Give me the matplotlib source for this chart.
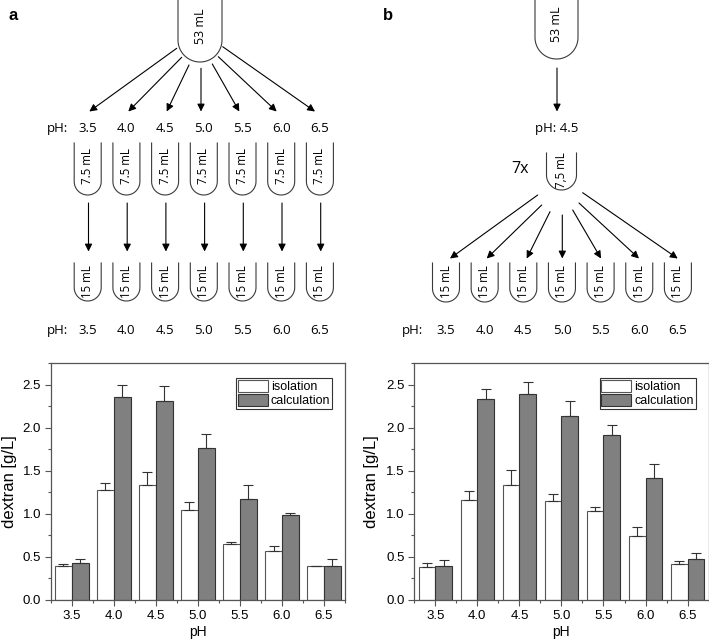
import numpy as np
import matplotlib
matplotlib.use("Agg")
from matplotlib import pyplot as plt
from matplotlib.ticker import MultipleLocator, FormatStrFormatter

# data
ph = [3.5, 4.0, 4.5, 5.0, 5.5, 6.0, 6.5]
ph_labels = ["3.5", "4.0", "4.5", "5.0", "5.5", "6.0", "6.5"]
a_iso = [0.39, 1.28, 1.33, 1.05, 0.65, 0.57, 0.39]
a_iso_err = [0.03, 0.08, 0.16, 0.09, 0.02, 0.06, 0.01]
a_calc = [0.43, 2.35, 2.31, 1.76, 1.17, 0.99, 0.40]
a_calc_err = [0.05, 0.15, 0.17, 0.17, 0.17, 0.02, 0.08]
b_iso = [0.38, 1.16, 1.34, 1.15, 1.03, 0.74, 0.42]
b_iso_err = [0.05, 0.11, 0.17, 0.08, 0.05, 0.11, 0.03]
b_calc = [0.40, 2.33, 2.39, 2.13, 1.91, 1.41, 0.48]
b_calc_err = [0.06, 0.12, 0.14, 0.18, 0.12, 0.17, 0.06]

W, H = 709, 643
DFONT = "Open Sans"
CFONT = "Liberation Sans"
LINE = "#3a3a3a"

fig = plt.figure(figsize=(W / 100, H / 100), dpi=100)

# ---- scheme drawn in pixel coordinates ----
bg = fig.add_axes([0, 0, 1, 1])
bg.set_xlim(0, W)
bg.set_ylim(H, 0)
bg.axis("off")


def tube(cx, top, bottom, width, label, ty, fs=8.3):
    r = width / 2
    t = np.linspace(0, np.pi, 50)
    xs = np.concatenate([[cx + r], cx + r * np.cos(t), [cx - r]])
    ys = np.concatenate([[top], bottom - r + r * np.sin(t), [top]])
    bg.plot(xs, ys, color=LINE, lw=0.8)
    bg.text(cx, ty, label, rotation=90, ha="center", va="center",
            fontsize=fs, family=DFONT)


def arrow(x0, y0, x1, y1):
    bg.annotate("", xy=(x1, y1), xytext=(x0, y0),
                arrowprops=dict(arrowstyle="-|>", color="black", lw=0.8,
                                mutation_scale=11, shrinkA=0, shrinkB=0))


def ph_row(xs, y, px):
    bg.text(px, y, "pH:", ha="center", va="center", fontsize=9.5, family=DFONT)
    for x, lab in zip(xs, ph_labels):
        bg.text(x, y, lab, ha="center", va="center", fontsize=9.5, family=DFONT)


xa = 87.7 + 38.7 * np.arange(7)
xb = 446 + 38.65 * np.arange(7)

bg.text(13, 15, "a", fontsize=12, fontweight="bold", family=CFONT, ha="center", va="center")
bg.text(388, 15, "b", fontsize=12, fontweight="bold", family=CFONT, ha="center", va="center")

# panel a scheme
tube(200, -2, 62, 44, "53 mL", 26, fs=9)
fan_a_start = [(176.7, 48.3), (181.7, 57.3), (189, 65), (201, 68.3),
               (212.3, 64), (218.3, 56.7), (222.7, 46.7)]
fan_a_end = [89.3, 128.3, 166.7, 201, 239.3, 276.7, 315]
for (sx, sy), ex in zip(fan_a_start, fan_a_end):
    arrow(sx, sy, ex, 111.5)
ph_row(xa, 128.5, 57)
for x in xa:
    tube(x, 143, 195, 27, "7.5 mL", 166)
    arrow(x + 0.8, 203, x + 0.8, 251.5)
    tube(x, 263, 301, 27, "15 mL", 282)
ph_row(xa, 330.5, 57)

# panel b scheme
tube(556.5, -2, 59, 43, "53 mL", 24, fs=9)
arrow(557, 68, 557, 111.5)
bg.text(557, 128.5, "pH: 4.5", ha="center", va="center", fontsize=9.5, family=DFONT)
bg.text(519.5, 169, "7x", ha="center", va="center", fontsize=11.5, family=DFONT)
tube(561.5, 153, 190, 30, "7,5 mL", 170)
fan_b_start = [(537.7, 195), (541.7, 205), (550, 211.7), (562.3, 215),
               (572.7, 210), (579, 203), (582.7, 192.7)]
fan_b_end = [450, 486.7, 526.7, 562.3, 601, 639, 677.7]
for (sx, sy), ex in zip(fan_b_start, fan_b_end):
    arrow(sx, sy, ex, 258.5)
for x in xb:
    tube(x, 263, 302, 27, "15 mL", 282)
ph_row(xb, 330.5, 412.3)


# ---- bar charts ----
def chart(left, iso, iso_err, calc, calc_err, ylab_x):
    ax = fig.add_axes([left / W, 1 - 600 / H, 294.3 / W, 237 / H])
    x = np.array(ph)
    zeros = np.zeros(len(ph))
    ekw = dict(ecolor="#333333", elinewidth=0.8, capthick=0.8, capsize=3.5)
    ax.bar(x - 0.1, iso, width=0.2, color="white", edgecolor="#555555",
           lw=0.8, yerr=[zeros, iso_err], error_kw=ekw, label="isolation")
    ax.bar(x + 0.1, calc, width=0.2, color="#808080", edgecolor="#333333",
           lw=0.8, yerr=[zeros, calc_err], error_kw=ekw, label="calculation")
    ax.set_xlim(3.25, 6.75)
    ax.set_ylim(0, 2.75)
    ax.set_xticks(ph)
    ax.set_xticklabels(ph_labels)
    ax.xaxis.set_minor_locator(MultipleLocator(0.5, offset=0.25))
    ax.yaxis.set_major_locator(MultipleLocator(0.5))
    ax.yaxis.set_minor_locator(MultipleLocator(0.25))
    ax.yaxis.set_major_formatter(FormatStrFormatter("%.1f"))
    for s in ax.spines.values():
        s.set_color("#555555")
        s.set_linewidth(0.9)
    ax.tick_params(which="major", direction="out", length=4, width=0.8,
                   color="#555555", labelsize=9.5, pad=3)
    ax.tick_params(which="minor", direction="out", length=2.5, width=0.8,
                   color="#555555")
    for t in ax.get_xticklabels() + ax.get_yticklabels():
        t.set_family(CFONT)
    ax.set_xlabel("pH", fontsize=10, family=CFONT)
    ax.set_ylabel("dextran [g/L]", fontsize=12, family=CFONT)
    ax.xaxis.set_label_coords(0.5, -0.105)
    ax.yaxis.set_label_coords(ylab_x, 0.5)
    leg = ax.legend(loc="upper right", bbox_to_anchor=(0.957, 0.938),
                    borderaxespad=0, fancybox=False, framealpha=1,
                    edgecolor="#333333", prop=dict(family=CFONT, size=9),
                    handlelength=2.4, handleheight=1.15, handletextpad=0.25,
                    labelspacing=0.05, borderpad=0.15)
    leg.get_frame().set_linewidth(0.8)
    return ax


chart(50.7, a_iso, a_iso_err, a_calc, a_calc_err, -0.115)
chart(414.3, b_iso, b_iso_err, b_calc, b_calc_err, -0.121)

fig.savefig("out.png", dpi=100)
